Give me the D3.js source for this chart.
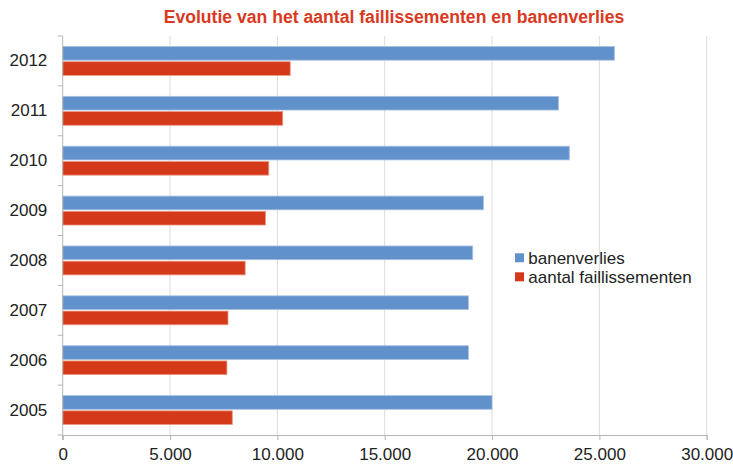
<!DOCTYPE html>
<html>
<head>
<meta charset="utf-8">
<script src="https://cdn.jsdelivr.net/npm/d3@7.9.0/dist/d3.min.js"></script>
<style>
  body { margin: 0; background: #fff; }
  svg { display: block; font-family: "Liberation Sans", Arial, sans-serif; }
</style>
</head>
<body>
<svg id="chart" width="733" height="464"></svg>
<script>
// data
const years = ['2012', '2011', '2010', '2009', '2008', '2007', '2006', '2005'];
const banenverlies = [25700, 23100, 23600, 19600, 19100, 18900, 18900, 20000];
const faillissementen = [10600, 10250, 9600, 9450, 8500, 7700, 7650, 7900];
const seriesNames = ['banenverlies', 'aantal faillissementen'];
const xTicks = [0, 5000, 10000, 15000, 20000, 25000, 30000];

const colors = ['#6191cb', '#d43a1a'];
const edges = ['#a9c2e3', '#ec9a86'];

const svg = d3.select('#chart');
const plotLeft = 62.7, plotRight = 706.7, plotTop = 36, plotBottom = 435;

const nl = d3.formatLocale({ decimal: ',', thousands: '.', grouping: [3], currency: ['€', ''] });
const fmt = nl.format(',d');

const x = d3.scaleLinear().domain([0, 30000]).range([plotLeft, plotRight]);
const y = d3.scaleBand().domain(years).range([plotTop, plotBottom])
  .paddingInner(0.42).paddingOuter(0.21);
const sub = d3.scaleBand().domain(seriesNames).range([0, y.bandwidth()]).paddingInner(0.1);

// title
svg.append('text')
  .attr('x', 394).attr('y', 22.5)
  .attr('text-anchor', 'middle')
  .attr('font-size', 17.6).attr('font-weight', 'bold')
  .attr('fill', '#d9391e')
  .text('Evolutie van het aantal faillissementen en banenverlies');

// gridlines
svg.append('g')
  .selectAll('line')
  .data(xTicks.slice(1))
  .join('line')
  .attr('x1', d => x(d)).attr('x2', d => x(d))
  .attr('y1', plotTop).attr('y2', plotBottom)
  .attr('stroke', '#dcdcdc').attr('stroke-width', 1);

// bars
const rows = years.map((yr, i) => ({ year: yr, values: [banenverlies[i], faillissementen[i]] }));
const groups = svg.append('g')
  .selectAll('g')
  .data(rows)
  .join('g')
  .attr('transform', d => `translate(0,${y(d.year)})`);

groups.selectAll('rect')
  .data(d => d.values.map((v, k) => ({ v, k })))
  .join('rect')
  .attr('x', x(0))
  .attr('y', d => sub(seriesNames[d.k]))
  .attr('width', d => x(d.v) - x(0))
  .attr('height', sub.bandwidth())
  .attr('fill', d => colors[d.k])
  .attr('stroke', d => edges[d.k])
  .attr('stroke-width', 0.8);

// x axis
const xAxis = svg.append('g')
  .attr('transform', `translate(0,${plotBottom})`)
  .call(d3.axisBottom(x).tickValues(xTicks).tickFormat(fmt).tickSize(5).tickPadding(8));
xAxis.select('.domain').attr('stroke', '#b5b5b5');
xAxis.selectAll('.tick line').attr('stroke', '#b5b5b5');
xAxis.selectAll('text').attr('font-size', 17).attr('fill', '#222').attr('font-family', null);

// y axis
const yAxis = svg.append('g')
  .attr('transform', `translate(${plotLeft},0)`)
  .call(d3.axisLeft(y).tickSize(0).tickPadding(15.4));
yAxis.select('.domain').remove();
yAxis.selectAll('text').attr('font-size', 17).attr('fill', '#222').attr('font-family', null);

const edgesY = d3.range(years.length + 1).map(i => plotTop + i * y.step());
svg.append('g')
  .selectAll('line')
  .data(edgesY)
  .join('line')
  .attr('x1', plotLeft - 5).attr('x2', plotLeft)
  .attr('y1', d => d).attr('y2', d => d)
  .attr('stroke', '#b5b5b5');
svg.append('line')
  .attr('x1', plotLeft).attr('x2', plotLeft)
  .attr('y1', plotTop).attr('y2', plotBottom + 5)
  .attr('stroke', '#b5b5b5');

// legend
const legend = svg.append('g').attr('transform', 'translate(515,253.3)');
seriesNames.forEach((name, k) => {
  const row = legend.append('g').attr('transform', `translate(0,${k * 19})`);
  row.append('rect').attr('width', 9).attr('height', 9).attr('fill', colors[k]);
  row.append('text')
    .attr('x', 13.3).attr('y', 10.7)
    .attr('font-size', 17).attr('fill', '#222')
    .text(name);
});
</script>
</body>
</html>
